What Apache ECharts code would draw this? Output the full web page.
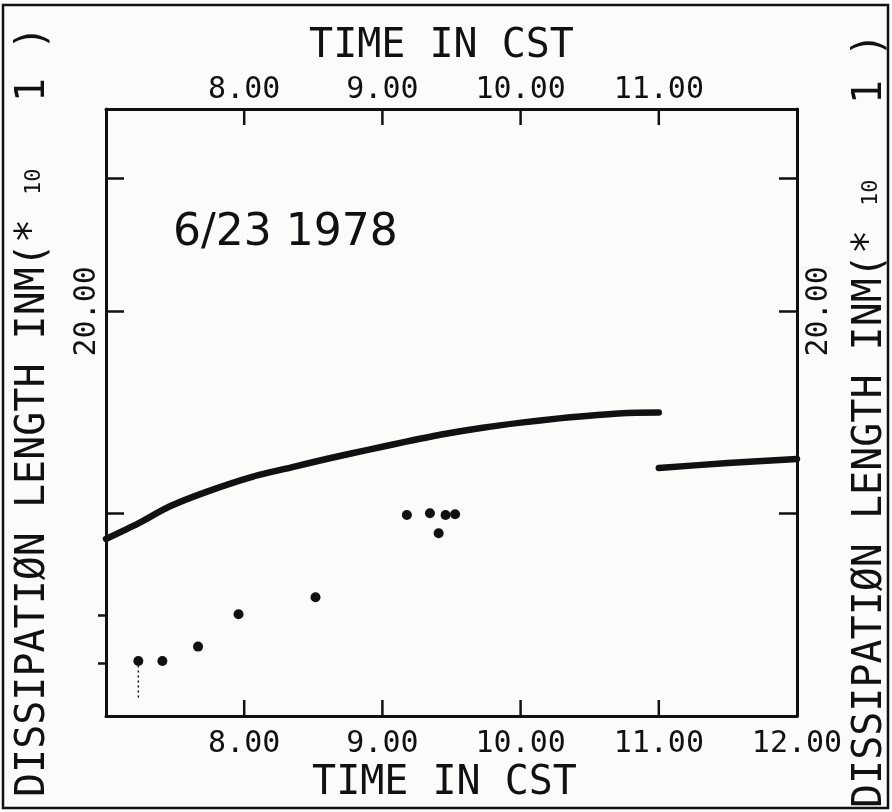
<!DOCTYPE html>
<html>
<head>
<meta charset="utf-8">
<script src="https://cdn.jsdelivr.net/npm/echarts@6/dist/echarts.min.js"></script>
<style>
html,body{margin:0;padding:0;background:#fbfbfa;}
#chart{width:892px;height:812px;}
</style>
</head>
<body>
<div id="chart"></div>
<script>
// ---- data ----
const timeMin = 7, timeMax = 12, timeStep = 1;
const xTickValues = [8, 9, 10, 11];
const lengthMin = 0, lengthMax = 30;
const yTicksInside = [26.6, 20, 10];
const yTicksOutside = [5, 2.6];
const yLabelValues = [20];

// continuous curve, morning segment
const curveTimes  = [7.0, 7.234, 7.455, 7.732, 8.064, 8.342, 8.618, 8.895, 9.172, 9.449, 9.726, 10.003, 10.279, 10.556, 10.834, 11.0];
const curveLength = [8.75, 9.52, 10.34, 11.09, 11.83, 12.29, 12.74, 13.15, 13.56, 13.94, 14.25, 14.50, 14.71, 14.88, 14.99, 15.0];
// continuous curve, after 11:00
const curve2Times  = [11.0, 11.5, 12.0];
const curve2Length = [12.26, 12.50, 12.70];
// measured points
const obsTimes  = [7.234, 7.408, 7.666, 7.959, 8.516, 9.177, 9.344, 9.457, 9.526, 9.407];
const obsLength = [2.72, 2.72, 3.43, 5.03, 5.87, 9.93, 10.02, 9.93, 9.97, 9.03];
// dotted drop under first point
const dropTimes  = [7.234, 7.234];
const dropLength = [2.5, 0.9];

const dateLabel = '6/23 1978';
const xName = 'TIME IN CST';
const yName = 'DISSIPATIØN LENGTH INM(*';
const yNameExp = '10';

const pairs = (a, b) => a.map((v, i) => [v, b[i]]);

const MONO = '"DejaVu Sans Mono", monospace';
const INK = '#111';
const X_TICK_PX = 16;

const chart = echarts.init(document.getElementById('chart'), null, {renderer: 'canvas'});

const xAxisBase = {
  type: 'value', min: timeMin, max: timeMax, interval: timeStep,
  splitLine: {show: false},
  axisLine: {show: true, onZero: false, lineStyle: {color: INK, width: 3}},
  axisTick: {show: false},
  name: xName, nameLocation: 'middle'
};

const yAxisBase = {
  type: 'value', min: lengthMin, max: lengthMax,
  splitLine: {show: false},
  axisLine: {show: true, onZero: false, lineStyle: {color: INK, width: 3}},
  axisTick: {show: true, inside: true, length: 18, customValues: yTicksInside, lineStyle: {color: INK, width: 2.5}},
  axisLabel: {show: true, customValues: yLabelValues, rotate: 90, formatter: v => v.toFixed(2),
    fontFamily: MONO, fontSize: 30, color: INK}
};

function staticGraphics() {
  const vText = (x, y, text, align) => ({type: 'text', x: x, y: y, rotation: Math.PI / 2,
    style: {text: text, fontFamily: MONO, fontSize: 40, fill: INK, align: align, verticalAlign: 'middle',
      rich: {s: {fontFamily: MONO, fontSize: 22, fill: INK}}}});
  return [
    {type: 'rect', shape: {x: 3, y: 5, width: 885, height: 803},
      style: {fill: null, stroke: INK, lineWidth: 2.5}, silent: true},
    vText(34, 797, yName + ' {s|' + yNameExp + '}', 'left'),
    vText(34, 90, '1', 'center'),
    vText(34, 38, ')', 'center'),
    vText(871, 808, yName + ' {s|' + yNameExp + '}', 'left'),
    vText(871, 92, '1', 'center'),
    vText(871, 45, ')', 'center')
  ];
}

chart.setOption({
  backgroundColor: '#fbfbfa',
  animation: false,
  grid: {left: 106, right: 95, top: 109, bottom: 96, containLabel: false, outerBoundsMode: 'none'},
  xAxis: [
    Object.assign({}, xAxisBase, {
      position: 'bottom', nameGap: 46,
      nameTextStyle: {fontFamily: MONO, fontSize: 40, color: INK, padding: [0, 14, 0, 0]},
      axisLabel: {showMinLabel: false, showMaxLabel: true, margin: 13, formatter: v => v.toFixed(2),
        fontFamily: MONO, fontSize: 30, color: INK}
    }),
    Object.assign({}, xAxisBase, {
      position: 'top', nameGap: 42,
      nameTextStyle: {fontFamily: MONO, fontSize: 40, color: INK, padding: [0, 20, 0, 0]},
      axisLabel: {showMinLabel: false, showMaxLabel: false, margin: 4, formatter: v => v.toFixed(2),
        fontFamily: MONO, fontSize: 30, color: INK}
    })
  ],
  yAxis: [
    Object.assign({}, yAxisBase, {position: 'left',
      axisLabel: Object.assign({}, yAxisBase.axisLabel, {margin: 4})}),
    Object.assign({}, yAxisBase, {position: 'right',
      axisLabel: Object.assign({}, yAxisBase.axisLabel, {margin: 7})}),
    {type: 'value', min: lengthMin, max: lengthMax, position: 'left',
      splitLine: {show: false}, axisLine: {show: false, onZero: false}, axisLabel: {show: false},
      axisTick: {show: true, inside: false, length: 8, customValues: yTicksOutside, lineStyle: {color: INK, width: 2.5}}}
  ],
  title: {
    text: dateLabel, left: 168, top: 207,
    textStyle: {fontFamily: '"DejaVu Sans", sans-serif', fontWeight: 'normal', fontSize: 44, color: INK}
  },
  graphic: staticGraphics(),
  series: [
    {type: 'line', data: pairs(curveTimes, curveLength), smooth: 0.25, showSymbol: false,
      lineStyle: {color: INK, width: 6.5, cap: 'round', join: 'round'}, xAxisIndex: 0, yAxisIndex: 0},
    {type: 'line', data: pairs(curve2Times, curve2Length), smooth: 0.3, showSymbol: false,
      lineStyle: {color: INK, width: 6.5, cap: 'round', join: 'round'}, xAxisIndex: 0, yAxisIndex: 0},
    {type: 'scatter', data: pairs(obsTimes, obsLength), symbol: 'circle', symbolSize: 10,
      itemStyle: {color: INK, opacity: 1}, xAxisIndex: 0, yAxisIndex: 0},
    {type: 'line', data: pairs(dropTimes, dropLength), showSymbol: false,
      lineStyle: {color: INK, width: 1.5, type: [2, 3]}, xAxisIndex: 0, yAxisIndex: 0}
  ]
});

// inward tick marks of both time axes, located with the chart's own scale
const finder = {xAxisIndex: 0, yAxisIndex: 0};
const tickGraphics = [];
xTickValues.forEach(t => {
  const b = chart.convertToPixel(finder, [t, lengthMin]);
  const tp = chart.convertToPixel(finder, [t, lengthMax]);
  const st = {stroke: INK, lineWidth: 2.5};
  tickGraphics.push({type: 'line', zlevel: 1, z: 100, silent: true,
    shape: {x1: b[0], y1: b[1], x2: b[0], y2: b[1] - X_TICK_PX}, style: st});
  tickGraphics.push({type: 'line', zlevel: 1, z: 100, silent: true,
    shape: {x1: tp[0], y1: tp[1], x2: tp[0], y2: tp[1] + X_TICK_PX}, style: st});
});
chart.setOption({graphic: staticGraphics().concat(tickGraphics)}, {replaceMerge: ['graphic']});
</script>
</body>
</html>
